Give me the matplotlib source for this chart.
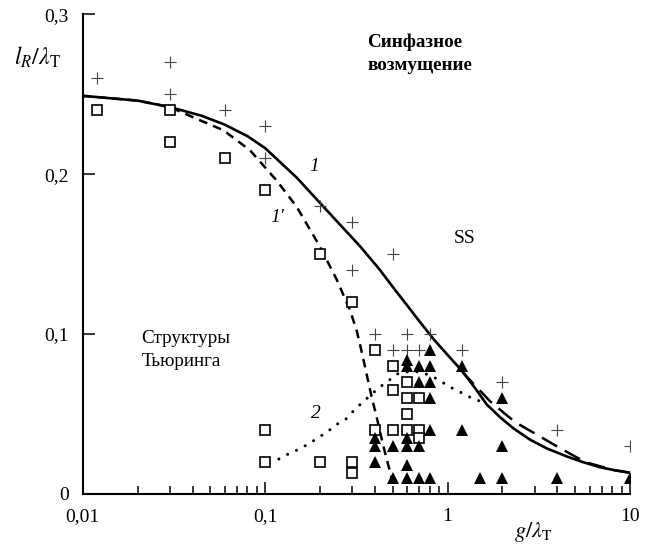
import matplotlib
matplotlib.use("Agg")
import matplotlib.pyplot as plt
from matplotlib.ticker import FixedLocator, FixedFormatter, LogLocator, NullFormatter

plt.rcParams['font.family'] = ['Liberation Serif', 'DejaVu Serif']
plt.rcParams['mathtext.fontset'] = 'stix'

# ---- data ----
plus_x = [0.012, 0.03, 0.03, 0.06, 0.1, 0.1, 0.2, 0.3, 0.3, 0.5, 0.4, 0.6, 0.8,
          0.5, 0.6, 0.7, 1.2, 2, 4, 10]
plus_y = [0.26, 0.27, 0.25, 0.24, 0.23, 0.21, 0.18, 0.17, 0.14, 0.15, 0.10, 0.10, 0.10,
          0.09, 0.09, 0.09, 0.09, 0.07, 0.04, 0.03]

sq_x = [0.012, 0.03, 0.03, 0.06, 0.1, 0.2, 0.3, 0.4, 0.5, 0.6, 0.5, 0.6, 0.7, 0.6,
        0.4, 0.5, 0.6, 0.7, 0.7, 0.1, 0.1, 0.2, 0.3, 0.3]
sq_y = [0.24, 0.24, 0.22, 0.21, 0.19, 0.15, 0.12, 0.09, 0.08, 0.07, 0.065, 0.06, 0.06, 0.05,
        0.04, 0.04, 0.04, 0.04, 0.035, 0.04, 0.02, 0.02, 0.02, 0.013]

tri_x = [0.8, 0.6, 0.6, 0.7, 0.8, 1.2, 0.7, 0.8, 0.8, 2, 0.8, 1.2, 0.4, 0.4, 0.6,
         0.5, 0.6, 0.7, 2, 0.4, 0.6, 0.5, 0.6, 0.7, 0.8, 1.5, 2, 4, 10]
tri_y = [0.09, 0.084, 0.08, 0.08, 0.08, 0.08, 0.07, 0.07, 0.06, 0.06, 0.04, 0.04, 0.035, 0.03, 0.035,
         0.03, 0.03, 0.03, 0.03, 0.02, 0.018, 0.01, 0.01, 0.01, 0.01, 0.01, 0.01, 0.01, 0.01]

# curve 1 (solid)
c1_x = [0.01, 0.02, 0.03, 0.045, 0.06, 0.08, 0.1, 0.121, 0.15, 0.184, 0.2, 0.25, 0.331, 0.42,
        0.505, 0.6, 0.69, 0.836, 1.0, 1.2, 1.4, 1.64, 1.94, 2.3, 2.83, 3.5, 4.5, 5.5, 6.86, 8.3, 10]
c1_y = [0.249, 0.246, 0.242, 0.2365, 0.231, 0.2238, 0.2163, 0.2075, 0.1975, 0.1865, 0.182, 0.170,
        0.155, 0.141, 0.129, 0.118, 0.109, 0.097, 0.087, 0.077, 0.067, 0.056, 0.048, 0.041,
        0.034, 0.0285, 0.0235, 0.020, 0.0167, 0.0148, 0.0133]

# curve 1' (dashed)
c1p_x = [0.01, 0.02, 0.03, 0.044, 0.059, 0.0826, 0.1157, 0.149, 0.2, 0.247, 0.292, 0.318,
         0.34, 0.36, 0.385, 0.409, 0.43, 0.454, 0.494]
c1p_y = [0.249, 0.246, 0.242, 0.2337, 0.2275, 0.215, 0.196, 0.1796, 0.1546, 0.134, 0.115, 0.102,
         0.088, 0.075, 0.060, 0.048, 0.037, 0.026, 0.010]

# long-dashed branch on the right
c1r_x = [1.2, 1.27, 1.54, 1.71, 2.15, 2.39, 2.83, 4.0, 5.67, 8.1, 10]
c1r_y = [0.077, 0.0735, 0.0635, 0.058, 0.0485, 0.0444, 0.0396, 0.0296, 0.020, 0.015, 0.0133]

# curve 2 (dotted)
c2_x = [0.119, 0.136, 0.154, 0.175, 0.197, 0.222, 0.25, 0.278, 0.311, 0.345, 0.384, 0.427,
        0.48, 0.537, 0.65, 0.8, 0.91, 1.02, 1.17, 1.33, 1.51, 1.64]
c2_y = [0.0219, 0.0254, 0.0281, 0.0317, 0.0354, 0.0394, 0.0439, 0.047, 0.053, 0.0577, 0.0625,
        0.067, 0.0713, 0.0754, 0.077, 0.0744, 0.0708, 0.0672, 0.0638, 0.0605, 0.058, 0.056]

x_ticks = [0.01, 0.1, 1, 10]
x_labels = ["0,01", "0,1", "1", "10"]
y_ticks = [0, 0.1, 0.2, 0.3]
y_labels = ["0", "0,1", "0,2", "0,3"]

fig = plt.figure(figsize=(6.51, 5.45), dpi=100)
ax = fig.add_axes([0.127, 0.0936, 0.8407, 0.8802])

ax.plot(c1_x, c1_y, color='black', lw=1.9, solid_capstyle='butt', solid_joinstyle='round', zorder=2)
ax.plot(c1p_x, c1p_y, color='black', lw=1.8, linestyle=(0, (3.5, 2.5)), zorder=2)
ax.plot(c1r_x, c1r_y, color='black', lw=1.8, linestyle=(0, (7, 3.5)), zorder=2)
ax.plot(c2_x, c2_y, color='black', lw=2.2, linestyle=(0, (0.01, 3.2)),
        dash_capstyle='round', zorder=2)

ax.plot(plus_x, plus_y, linestyle='none', marker='+', markersize=9, mew=0.8,
        color='#444444', zorder=3)
ax.plot(sq_x, sq_y, linestyle='none', marker='s', markersize=7.5, mew=1.2,
        mec='black', mfc='white', zorder=4)
ax.plot(tri_x, tri_y, linestyle='none', marker='^', markersize=8.5, mew=0,
        color='black', zorder=5)

ax.set_xscale('log')
ax.set_xlim(0.01, 10)
ax.set_ylim(0, 0.3)

ax.xaxis.set_major_locator(FixedLocator(x_ticks))
ax.xaxis.set_major_formatter(FixedFormatter(x_labels))
ax.xaxis.set_minor_locator(LogLocator(base=10, subs=[2, 3, 4, 5, 6, 7, 8, 9]))
ax.xaxis.set_minor_formatter(NullFormatter())
ax.yaxis.set_major_locator(FixedLocator(y_ticks))
ax.yaxis.set_major_formatter(FixedFormatter(y_labels))

for s in ['top', 'right']:
    ax.spines[s].set_visible(False)
for s in ['left', 'bottom']:
    ax.spines[s].set_linewidth(1.5)

ax.tick_params(which='major', direction='in', length=8.5, width=1.1, labelsize=14, pad=10)
ax.tick_params(which='minor', direction='in', length=5.5, width=1.1)

ax.set_ylabel(r'$l_R/\lambda_{\mathrm{T}}$', rotation=0, fontsize=17, ha='center', va='center')
ax.yaxis.set_label_coords(-0.082, 0.911)
ax.set_xlabel(r'$g/\lambda_{\mathrm{T}}$', fontsize=16, ha='center', va='center')
ax.xaxis.set_label_coords(0.823, -0.08)

ax.text(0.362, 0.2753, "Синфазное\nвозмущение", fontsize=13.8, fontweight='bold',
        ha='left', va='center', linespacing=1.4)
ax.text(0.021, 0.09, "Структуры\nТьюринга", fontsize=13.8, ha='left', va='center',
        linespacing=1.4)
ax.text(1.247, 0.16, "SS", fontsize=14, ha='center', va='center')
ax.text(0.185, 0.205, "1", fontsize=14, style='italic', ha='center', va='center')
ax.text(0.116, 0.173, "1′", fontsize=14, style='italic', ha='center', va='center')
ax.text(0.19, 0.0506, "2", fontsize=14, style='italic', ha='center', va='center')

fig.savefig("out.png", dpi=100)
